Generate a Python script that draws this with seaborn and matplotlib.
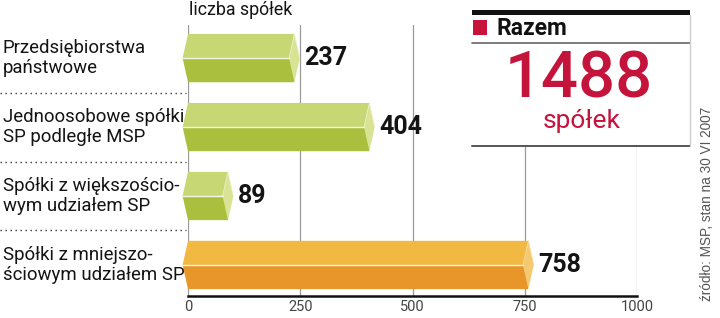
import matplotlib
matplotlib.use("Agg")
import matplotlib.pyplot as plt
import matplotlib.transforms as mtransforms
from matplotlib.patches import Polygon, Rectangle
from matplotlib.lines import Line2D
import seaborn as sns
import pandas as pd

# ---- data ----
categories = [
    "Przedsiębiorstwa\npaństwowe",
    "Jednoosobowe spółki\nSP podległe MSP",
    "Spółki z większościo-\nwym udziałem SP",
    "Spółki z mniejszo-\nściowym udziałem SP",
]
values = [237, 404, 89, 758]
x_ticks = [0, 250, 500, 750, 1000]
axis_title = "liczba spółek"
total_label = "Razem"
total_value = "1488"
total_unit = "spółek"
source_text = "źródło: MSP, stan na 30 VI 2007"

# face colours: (top, bottom, cap)
green = ("#c6d773", "#aabf3e", "#d8e494")
orange = ("#f1b842", "#e8962a", "#f5c972")
face_colors = [green, green, green, orange]

sns.set_theme(style="white")
plt.rcParams["font.family"] = ["Roboto", "DejaVu Sans"]
narrow = ["Liberation Sans Narrow", "Roboto", "DejaVu Sans"]

W, H = 720, 318
fig = plt.figure(figsize=(W / 100, H / 100), dpi=100)
ax = fig.add_axes([188 / W, 1 - 296 / H, 449 / W, (296 - 25) / H])

df = pd.DataFrame({"category": categories, "value": values})
sns.barplot(data=df, x="value", y="category", hue="category",
            palette=[c[1] for c in face_colors], width=0.70,
            legend=False, ax=ax, saturation=1, linewidth=0)

ax.set_xlim(0, 1000)
ax.set_ylim(3.45, -0.48)
ax.set_xticks(x_ticks)
ax.set_xticklabels([str(t) for t in x_ticks], color="#444444", fontsize=10.5)
ax.tick_params(axis="x", length=0, pad=3)
ax.set_yticks([])
ax.set_xlabel("")
ax.set_ylabel("")
for s in ["top", "right", "left"]:
    ax.spines[s].set_visible(False)
ax.spines["bottom"].set_color("#111111")
ax.spines["bottom"].set_linewidth(1.8)
ax.grid(axis="x", color="#9a9a9a", linewidth=0.9)
ax.set_axisbelow(True)

d = 12  # bevel depth in data units
for i, cont in enumerate(ax.containers):
    for p in cont.patches:
        v = p.get_width()
        y0 = p.get_y()
        h = p.get_height()
        top, bot, mid = y0, y0 + h, y0 + h / 2
        cols = face_colors[categories.index(df["category"].iloc[i])]
        top_face = Polygon([(0, top), (v, top), (v - d, mid), (-d, mid)],
                           closed=True, fc=cols[0], ec="none", clip_on=False, zorder=3)
        bot_face = Polygon([(-d, mid), (v - d, mid), (v, bot), (0, bot)],
                           closed=True, fc=cols[1], ec="none", clip_on=False, zorder=3)
        cap = Polygon([(v, top), (v + d, mid), (v, bot), (v - d, mid)],
                      closed=True, fc=cols[2], ec="none", clip_on=False, zorder=3)
        for poly in (top_face, bot_face, cap):
            ax.add_patch(poly)
        ax.plot([-d, v - d], [mid, mid], color="#f6f6e6", lw=1.0,
                clip_on=False, zorder=4)
        ax.plot([v - d, v, v + d], [mid, top, mid], color="#eef2d0" if cols is green else "#f8dca0",
                lw=0.6, clip_on=False, zorder=4)
        ax.annotate(str(int(round(v))), xy=(v + d, mid), xytext=(3, 0),
                    textcoords="offset points", ha="left", va="center",
                    fontsize=18, fontweight="bold", color="#141414", zorder=5)

# category labels (left aligned at figure edge, y in data)
blend = mtransforms.blended_transform_factory(fig.transFigure, ax.transData)
for i, lab in enumerate(categories):
    fig.text(3 / W, i, lab, transform=blend, ha="left", va="center",
             fontsize=13.4, family=narrow, color="#141414", linespacing=1.12)
# dotted separators
for i in range(len(categories) - 1):
    fig.add_artist(Line2D([0 / W, 186 / W], [i + 0.5, i + 0.5], transform=blend,
                          color="#333333", lw=1.0, linestyle=(0, (1, 2.6))))

# axis title
fig.text(189 / W, 1 - 10 / H, axis_title, ha="left", va="center",
         fontsize=12.8, family=narrow, color="#141414")

# total box
bx0, bx1, by0, by1 = 472 / W, 690 / W, 1 - 146 / H, 1 - 10 / H
fig.add_artist(Rectangle((bx0, by0), bx1 - bx0, by1 - by0, transform=fig.transFigure,
                         fc="white", ec="none", zorder=10))
fig.add_artist(Rectangle((bx0, 1 - 15 / H), bx1 - bx0, 5 / H, transform=fig.transFigure,
                         fc="#111111", ec="none", zorder=11))
fig.add_artist(Line2D([bx0, bx1], [1 - 43 / H, 1 - 43 / H], transform=fig.transFigure,
                      color="#666666", lw=1.2, zorder=11))
fig.add_artist(Line2D([bx0, bx1], [by0, by0], transform=fig.transFigure,
                      color="#555555", lw=1.4, zorder=11))
fig.add_artist(Line2D([bx1, bx1], [by0, 1 - 15 / H], transform=fig.transFigure,
                      color="#cccccc", lw=1.0, zorder=11))
fig.add_artist(Rectangle((473 / W, 1 - 35 / H), 14 / W, 15 / H, transform=fig.transFigure,
                         fc="#c8143c", ec="none", zorder=12))
fig.text(497 / W, 1 - 28.5 / H, total_label, ha="left", va="center", fontsize=16.5,
         fontweight="bold", color="#111111", zorder=12)
fig.text(579 / W, 1 - 80 / H, total_value, ha="center", va="center", fontsize=47,
         fontweight="medium", color="#c5143c", zorder=12)
fig.text(582 / W, 1 - 121 / H, total_unit, ha="center", va="center", fontsize=19,
         fontweight="normal", color="#c5143c", zorder=12)

# source
fig.text(707 / W, 1 - 204 / H, source_text, rotation=90, ha="center", va="center",
         fontsize=9.8, family=["Liberation Sans", "DejaVu Sans"], color="#555555")

fig.savefig("out.png", dpi=100)
